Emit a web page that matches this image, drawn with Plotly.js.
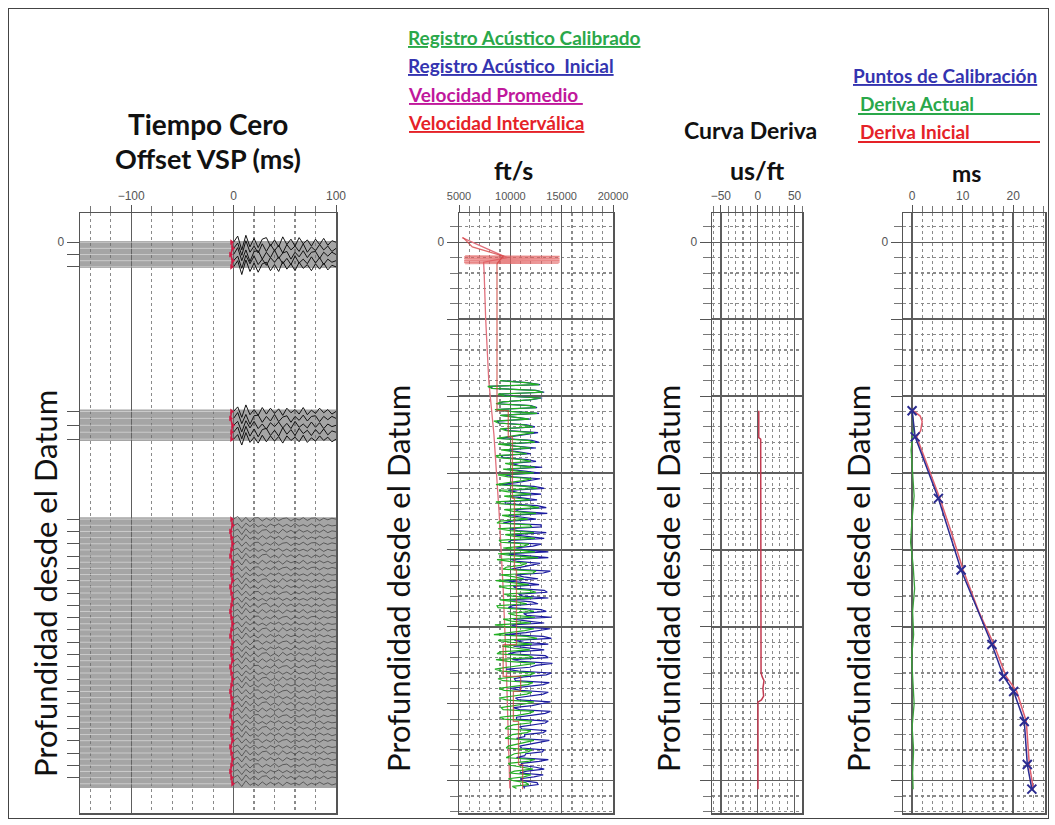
<!DOCTYPE html>
<html><head><meta charset="utf-8">
<script src="https://cdn.plot.ly/plotly-3.0.1.min.js"></script>
<style>
html,body{margin:0;padding:0;background:#fff}
#wrap{position:relative;width:1055px;height:825px}
#chart{width:1055px;height:825px}
#frame{position:absolute;left:8px;top:8px;width:1039px;height:809px;border:1px solid #444;pointer-events:none}
</style>
</head><body>
<div id="wrap"><div id="chart"></div><div id="frame"></div></div>
<script>
// ---------------- DATA ----------------
// Panel 1: VSP zero-offset traces (depth units, times in ms)
const bandTop = [-15, 2175, 3575];
const bandBottom = [335, 2585, 7095];
const traceDepths1 = [0, 80, 160, 240, 320];
const traceDepths2 = [2200, 2290, 2380, 2470, 2560];
const traceDepths3 = [3600,3680,3760,3840,3920,4000,4080,4160,4240,4320,4400,4480,4560,4640,4720,4800,4880,4960,5040,5120,5200,5280,5360,5440,5520,5600,5680,5760,5840,5920,6000,6080,6160,6240,6320,6400,6480,6560,6640,6720,6800,6880,6960,7040];
const pickTimes1 = [-2, -1, -3, -1, -2];
const pickTimes2 = [-2, -3, -1, -2, -2];
const pickTimes3 = [-2,-1,-3,-2,-1,-2,-3,-1,-2,-2,-1,-3,-2,-1,-2,-3,-2,-1,-2,-3,-1,-2,-2,-1,-3,-2,-1,-2,-3,-2,-1,-2,-3,-1,-2,-2,-1,-3,-2,-1,-2,-3,-2,-1];
const wiggleTimes = [0,4,8,12,16,20,24,28,32,36,40,44,48,52,56,60,64,68,72,76,80,84,88,92,96,100];
const wigglePattern0 = [0,0.8,-1.0,0.9,-0.6,0.5,-0.7,0.4,0.6,-0.5,0.3,-0.6,0.7,-0.3,0.4,-0.5,0.6,-0.2,0.3,-0.5,0.4,-0.3,0.5,-0.4,0.2,0];
const wigglePattern1 = [0,0.7,-0.9,1.0,-0.5,0.3,-0.6,0.6,-0.4,0.5,-0.3,0.4,-0.6,0.5,-0.2,0.3,-0.4,0.6,-0.5,0.2,-0.3,0.5,-0.2,0.3,-0.4,0];
const wigglePattern2 = [0,0.9,-0.8,0.6,-0.9,0.4,0.5,-0.6,0.3,-0.4,0.6,-0.5,0.2,0.4,-0.6,0.3,-0.3,0.5,-0.4,0.3,0.4,-0.5,0.3,-0.2,0.3,0];
const wigglePattern3 = [0,0.6,-1.0,0.7,-0.4,0.6,-0.5,0.2,-0.6,0.4,-0.2,0.5,-0.4,0.3,-0.5,0.6,-0.3,0.2,-0.4,0.5,-0.3,0.4,-0.5,0.2,-0.2,0];
const bandAmplitude = [100, 85, 40];

// Panel 2: velocities (ft/s)
const logDepth = [1800,1850,1900,1950,2000,2050,2100,2150,2200,2250,2300,2350,2400,2450,2500,2550,2600,2650,2700,2750,2800,2850,2900,2950,3000,3050,3100,3150,3200,3250,3300,3350,3400,3450,3500,3550,3600,3650,3700,3750,3800,3850,3900,3950,4000,4050,4100,4150,4200,4250,4300,4350,4400,4450,4500,4550,4600,4650,4700,4750,4800,4850,4900,4950,5000,5050,5100,5150,5200,5250,5300,5350,5400,5450,5500,5550,5600,5650,5700,5750,5800,5850,5900,5950,6000,6050,6100,6150,6200,6250,6300,6350,6400,6450,6500,6550,6600,6650,6700,6750,6800,6850,6900,6950,7000,7050,7100];
const sonicCalibrated = [9000,12800,8200,13200,9500,11800,8600,12500,10000,9000,11800,8800,12200,9600,11000,8700,12400,10200,9100,11600,8900,12000,10400,9300,12300,9800,11200,8600,12600,10100,9400,11900,9000,12800,10300,9200,11700,8700,12100,10000,9500,12400,9100,11300,10600,8800,12700,9900,11000,9300,12200,10400,8600,11800,9700,12500,10200,9000,11600,8800,12300,10500,9300,12000,9600,11400,8400,12600,10100,9200,11900,8700,12200,9800,11100,8500,12400,10000,9300,11700,8900,12100,10300,9600,11500,9100,12300,10700,9400,11900,9700,12000,10200,9500,11400,9800,12100,10400,9600,11700,10000,12200,9900,11300,10300,11800,10600];
const sonicInitial = [9100,12900,8300,13300,9600,11900,8700,12600,10100,9100,11900,8900,12400,9800,11300,9000,12800,10500,9400,12000,9300,12500,10800,9700,12900,10300,11800,9100,13300,10700,9900,12600,9500,13500,10900,9800,12500,9300,13000,10700,10100,13300,9800,12200,11400,9500,13700,10700,11900,10100,13200,11300,9400,12800,10600,13600,11200,9900,12700,9800,13500,11600,10300,13300,10700,12700,9500,14000,11300,10300,13300,9800,13700,11000,12500,9600,14000,11300,10500,13200,10000,13700,11600,10800,13000,10300,13900,12000,10600,13400,10900,13500,11400,10600,12700,10900,13300,11500,10600,12800,11000,13300,10900,12300,11200,12700,11400];
const logDepthMid = [1825,1875,1925,1975,2025,2075,2125,2175,2225,2275,2325,2375,2425,2475,2525,2575,2625,2675,2725,2775,2825,2875,2925,2975,3025,3075,3125,3175,3225,3275,3325,3375,3425,3475,3525,3575,3625,3675,3725,3775,3825,3875,3925,3975,4025,4075,4125,4175,4225,4275,4325,4375,4425,4475,4525,4575,4625,4675,4725,4775,4825,4875,4925,4975,5025,5075,5125,5175,5225,5275,5325,5375,5425,5475,5525,5575,5625,5675,5725,5775,5825,5875,5925,5975,6025,6075,6125,6175,6225,6275,6325,6375,6425,6475,6525,6575,6625,6675,6725,6775,6825,6875,6925,6975,7025,7075];
const sonicCalibratedMid = [11500,7800,12400,8800,13000,9200,11900,8500,12600,10600,8400,11300,9000,12300,9900,11700,8800,12000,10300,8600,11100,9500,12400,10700,8800,12100,9800,11400,8900,12000,10500,8600,11600,9400,12500,10100,9000,11900,8800,12300,10400,8900,11800,9300,12400,10200,8700,11600,9600,12500,9100,11300,10000,8900,11900,9400,12200,10600,8700,11500,9800,12400,10100,8500,12300,9900,11600,8800,12100,10400,9000,11800,8600,12400,10300,9200,11900,8800,12200,10100,9400,11600,8900,12300,10500,9300,11800,9000,12100,10300,9500,11600,9900,12300,10400,9600,11700,10000,12400,9800,11200,10400,12000,9800,11500,10200];
const sonicInitialMid = [11600,7900,12500,8900,13100,9300,12000,8600,12800,10800,8700,11600,9300,12700,10300,12100,9200,12500,10800,9100,11700,10100,13100,11400,9500,12900,10600,12300,9800,13000,11400,9500,12600,10400,13600,11200,10100,13000,9900,13500,11600,10100,13000,10500,13700,11500,10000,12900,10900,13900,10500,12700,11400,10300,13300,10800,13700,12100,10200,13000,11300,14000,11700,10100,13900,11500,13200,10400,13700,12000,10600,13400,10200,14100,11900,10800,13500,10400,13800,11700,11000,13200,10500,13900,12100,10900,13400,10600,13700,11900,11100,13200,11400,13800,11900,11100,13100,11400,13700,11100,12500,11600,13200,11000,12600,11300];
const avgVelDepth = [-60, 40, 120, 200, 260, 400, 1000, 1800, 2500, 3500, 4500, 5500, 6500, 7100];
const avgVel = [5300, 6900, 8300, 9700, 7400, 7450, 7600, 7900, 8400, 8900, 9300, 9600, 9800, 9950];
const intVelShallowDepth = [-60, 60, 180, 280];
const intVelShallow = [5400, 6300, 9300, 8700];
const intVelDepth = [280, 2190, 2530, 3330, 4260, 5230, 5645, 5840, 6230, 6790, 7110];
const intVel = [8700, 9800, 10200, 10400, 10600, 9300, 11000, 10300, 10800, 11200, 11200];
const spikeDepth = [180,186,192,198,204,210,216,222,228,234,240,246,252,258,264,270,276];
const spikeVel = [5600,14800,5500,14700,5600,14800,5500,14700,5600,14800,5500,14700,5600,14800,5500,14700,5600];

// Panel 3: drift curve (us/ft)
const driftDepth = [2190, 2540, 2560, 5600, 5650, 5700, 5800, 5900, 5950, 5980, 7110];
const driftSlowness = [1.4, 1.4, 4, 4.5, 6, 8.5, 7, 8, 5, 0.3, 0.3];

// Panel 4: drift (ms)
const calDepth = [2190, 2530, 3330, 4260, 5230, 5645, 5840, 6230, 6790, 7110];
const calDrift = [0, 0.6, 5.2, 9.7, 15.8, 18.1, 20.1, 22.2, 22.8, 23.7];
const initDepth = [2190, 2260, 2330, 2450, 2530, 3000, 3330, 3800, 4260, 4800, 5230, 5645, 5840, 6230, 6790, 7110];
const initDrift = [0.2, 1.6, 2.0, 1.7, 0.9, 3.6, 5.5, 7.9, 10.1, 13.2, 16.2, 18.6, 20.7, 22.6, 23.2, 24.0];
const actualDepth = [2190, 2400, 2700, 3000, 3300, 3600, 3900, 4200, 4500, 4800, 5100, 5400, 5700, 6000, 6300, 6600, 6900, 7110];
const actualDrift = [0.0, 0.3, -0.2, 0.1, 0.4, 0.0, -0.3, 0.2, 0.5, 0.1, 0.3, -0.1, 0.2, 0.4, 0.0, 0.3, 0.1, 0.2];

// Axis ticks
const depthMajorTicks = [0, 1000, 2000, 3000, 4000, 5000, 6000, 7000];
const depthMajorText = ['0', '', '', '', '', '', '', ''];

// ---------------- BUILD ----------------
const W = 1055, H = 825;
const px = x => x / W, py = y => 1 - y / H;
const YDOM = [py(813), py(213)];
const YRANGE = [7420, -380];
const FONT = 'Lato, "Open Sans", sans-serif';
const tickFont = {family: '"Liberation Sans", Arial, sans-serif', size: 12, color: '#555'};
const wigglePatterns = [wigglePattern0, wigglePattern1, wigglePattern2, wigglePattern3];
const bandDepths = [traceDepths1, traceDepths2, traceDepths3];
const bandPicks = [pickTimes1, pickTimes2, pickTimes3];

function interleave(a, am, b, bm) {
  const xs = [], ys = [];
  for (let i = 0; i < a.length; i++) {
    xs.push(b[i]); ys.push(a[i]);
    if (i < am.length && i < bm.length) { xs.push(bm[i]); ys.push(am[i]); }
  }
  return {xs, ys};
}

const traces = [];
for (let b = 0; b < bandTop.length; b++) {
  traces.push({x: [-150, 100, 100, -150, -150], y: [bandTop[b], bandTop[b], bandBottom[b], bandBottom[b], bandTop[b]],
    xaxis: 'x', yaxis: 'y', mode: 'lines', fill: 'toself', fillcolor: 'rgba(105,105,105,0.6)',
    line: {width: 0}, hoverinfo: 'skip', showlegend: false});
}
for (let b = 0; b < 3; b++) {
  const lx = [], ly = [], wx = [], wy = [];
  bandDepths[b].forEach((d, i) => {
    lx.push(-150, 0, null); ly.push(d, d, null);
    const p = wigglePatterns[(i + b) % 4];
    wiggleTimes.forEach((t, k) => { wx.push(t); wy.push(d - bandAmplitude[b] * p[k]); });
    wx.push(null); wy.push(null);
  });
  traces.push({x: lx, y: ly, xaxis: 'x', yaxis: 'y', mode: 'lines', line: {color: 'rgba(235,235,235,0.55)', width: 1}, hoverinfo: 'skip', showlegend: false});
  traces.push({x: wx, y: wy, xaxis: 'x', yaxis: 'y', mode: 'lines', line: {color: b === 2 ? 'rgba(15,15,15,0.5)' : '#111', width: 1}, hoverinfo: 'skip', showlegend: false});
  traces.push({x: bandPicks[b], y: bandDepths[b], xaxis: 'x', yaxis: 'y', mode: 'lines+markers',
    line: {color: '#d01c44', width: 1.5}, marker: {symbol: 'triangle-right', size: 5, color: '#d01c44'}, hoverinfo: 'skip', showlegend: false});
}
const blueLog = interleave(logDepth, logDepthMid, sonicInitial, sonicInitialMid);
const greenLog = interleave(logDepth, logDepthMid, sonicCalibrated, sonicCalibratedMid);
traces.push({x: avgVel, y: avgVelDepth, xaxis: 'x2', yaxis: 'y2', mode: 'lines', line: {color: '#e0707c', width: 1.3}, showlegend: false});
traces.push({x: spikeVel, y: spikeDepth, xaxis: 'x2', yaxis: 'y2', mode: 'lines', line: {color: 'rgba(225,95,95,0.75)', width: 1.5}, showlegend: false});
traces.push({x: intVelShallow, y: intVelShallowDepth, xaxis: 'x2', yaxis: 'y2', mode: 'lines', line: {color: 'rgba(215,70,70,0.8)', width: 1.3}, showlegend: false});
traces.push({x: blueLog.xs, y: blueLog.ys, xaxis: 'x2', yaxis: 'y2', mode: 'lines', line: {color: '#1c1ca0', width: 1.2}, showlegend: false});
traces.push({x: greenLog.xs, y: greenLog.ys, xaxis: 'x2', yaxis: 'y2', mode: 'lines', line: {color: '#22b022', width: 1.2}, showlegend: false});
traces.push({x: intVel, y: intVelDepth, xaxis: 'x2', yaxis: 'y2', mode: 'lines', line: {color: 'rgba(200,70,60,0.75)', width: 1.3, shape: 'vh'}, showlegend: false});
traces.push({x: driftSlowness, y: driftDepth, xaxis: 'x3', yaxis: 'y3', mode: 'lines', line: {color: '#c23a50', width: 1.5}, showlegend: false});
traces.push({x: actualDrift, y: actualDepth, xaxis: 'x4', yaxis: 'y4', mode: 'lines', line: {color: '#3aa03a', width: 1.3}, showlegend: false});
traces.push({x: initDrift, y: initDepth, xaxis: 'x4', yaxis: 'y4', mode: 'lines', line: {color: '#e06070', width: 1.5}, showlegend: false});
traces.push({x: calDrift, y: calDepth, xaxis: 'x4', yaxis: 'y4', mode: 'lines+markers', line: {color: '#2b2b90', width: 1.5},
  marker: {symbol: 'x-thin', size: 9, line: {width: 2, color: '#2b2b90'}}, showlegend: false});

function xAx(domain, range, dtick, minorDtick, anchor, fsize) {
  return {domain, range, side: 'top', anchor, dtick, tick0: 0, tickmode: 'linear', exponentformat: 'none', tickformat: 'd',
    showgrid: true, gridcolor: '#5e5e5e', gridwidth: 1.4, zeroline: false,
    showline: true, mirror: true, linecolor: '#555', linewidth: 1.5,
    ticks: 'outside', ticklen: 7, tickcolor: '#555', tickfont: Object.assign({}, tickFont, {size: fsize || 12}),
    minor: {tickmode: 'linear', dtick: minorDtick, tick0: 0, showgrid: true, gridcolor: '#8a8a8a', griddash: 'dot', gridwidth: 1.2,
      ticks: 'outside', ticklen: 6, tickcolor: '#777'},
    fixedrange: true};
}
function yAx(anchor) {
  return {domain: YDOM, range: YRANGE, anchor, tickmode: 'array', tickvals: depthMajorTicks, ticktext: depthMajorText,
    showgrid: true, gridcolor: '#5e5e5e', gridwidth: 1.4, zeroline: false,
    showline: true, mirror: true, linecolor: '#555', linewidth: 1.5,
    ticks: 'outside', ticklen: 11, tickcolor: '#555', tickfont: tickFont,
    minor: {tickmode: 'linear', dtick: 200, tick0: 0, showgrid: true, gridcolor: '#8a8a8a', griddash: 'dot', gridwidth: 1.2,
      ticks: 'outside', ticklen: 8, tickcolor: '#777'},
    fixedrange: true};
}
const p1TickVals = [].concat(...bandDepths.map(arr => arr.filter((d, i) => i % 2 === 0)));
const p1TickText = p1TickVals.map(v => v === 0 ? '0' : '');

const x1 = xAx([px(80), px(336)], [-150, 100], 100, 20, 'y');
const y1 = {domain: YDOM, range: YRANGE, anchor: 'x', tickmode: 'array', tickvals: p1TickVals, ticktext: p1TickText,
  showgrid: false, zeroline: false, showline: true, mirror: true, linecolor: '#555', linewidth: 1.5,
  ticks: 'outside', ticklen: 12, tickcolor: '#555', tickfont: tickFont, fixedrange: true};

function ann(text, x, y, size, color, opts) {
  return Object.assign({text, x: px(x), y: py(y), xref: 'paper', yref: 'paper', showarrow: false,
    xanchor: 'center', yanchor: 'middle', font: {family: FONT, size, color}}, opts || {});
}
const legendFont = (color, under) => ({family: FONT, size: 19, color, weight: 'bold', lineposition: under ? 'under' : 'none'});
const annotations = [
  ann('<b>Tiempo Cero</b>', 208, 124, 28, '#111'),
  ann('<b>Offset VSP (ms)</b>', 208, 158, 27, '#111'),
  ann('<b>ft/s</b>', 513, 170, 25, '#111'),
  ann('<b>Curva Deriva</b>', 750, 130, 23, '#111'),
  ann('<b>us/ft</b>', 757, 170, 25, '#111'),
  ann('<b>ms</b>', 966, 173, 23, '#111'),
  ann('Profundidad desde el Datum', 45, 584, 31, '#111', {textangle: -90}),
  ann('Profundidad desde el Datum', 398, 579, 31, '#111', {textangle: -90}),
  ann('Profundidad desde el Datum', 668, 579, 31, '#111', {textangle: -90}),
  ann('Profundidad desde el Datum', 858, 579, 31, '#111', {textangle: -90}),
  ann('Registro Acústico Calibrado', 406, 38, 19, '#2aa84a', {xanchor: 'left', font: legendFont('#2aa84a', true)}),
  ann('Registro Acústico  Inicial', 406, 66, 19, '#3434b0', {xanchor: 'left', font: legendFont('#3434b0', true)}),
  ann('Velocidad Promedio ', 406, 95, 19, '#c0189c', {xanchor: 'left', font: legendFont('#c0189c', true)}),
  ann('Velocidad Interválica', 406, 123, 19, '#e52228', {xanchor: 'left', font: legendFont('#e52228', true)}),
  ann('Puntos de Calibración', 851, 75, 19, '#3434b0', {xanchor: 'left', font: legendFont('#3434b0', true)}),
  ann('Deriva Actual', 858, 103, 19, '#2aa84a', {xanchor: 'left', font: legendFont('#2aa84a', false)}),
  ann('Deriva Inicial', 858, 131, 19, '#e52228', {xanchor: 'left', font: legendFont('#e52228', false)})
];
const shapes = [
  {type: 'line', xref: 'paper', yref: 'paper', x0: px(858), x1: px(1040), y0: py(114), y1: py(114), line: {color: '#2aa84a', width: 2}},
  {type: 'line', xref: 'paper', yref: 'paper', x0: px(858), x1: px(1040), y0: py(142), y1: py(142), line: {color: '#e52228', width: 2}}
];

const layout = {
  width: W, height: H, margin: {l: 0, r: 0, t: 0, b: 0},
  paper_bgcolor: '#fff', plot_bgcolor: '#fff', showlegend: false,
  xaxis: x1, yaxis: y1,
  xaxis2: xAx([px(459), px(613)], [5000, 20000], 5000, 1000, 'y2', 11), yaxis2: yAx('x2'),
  xaxis3: xAx([px(712), px(802)], [-62, 60], 50, 10, 'y3'), yaxis3: yAx('x3'),
  xaxis4: xAx([px(903), px(1045)], [-1.8, 26.3], 10, 2, 'y4'), yaxis4: yAx('x4'),
  annotations, shapes
};
Plotly.newPlot('chart', traces, layout, {staticPlot: true, displayModeBar: false});
</script>
</body></html>
